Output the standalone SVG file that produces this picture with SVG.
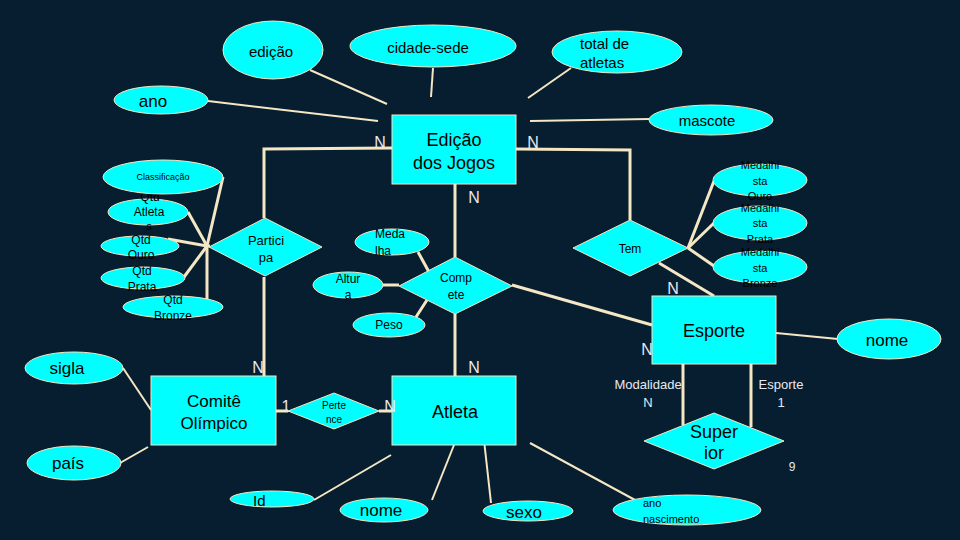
<svg xmlns="http://www.w3.org/2000/svg" width="960" height="540" viewBox="0 0 960 540">
<style>
.bg{fill:#061e2f}
.n{fill:#00ffff;stroke:#f5e6c4;stroke-width:1}
.t{font-family:"Liberation Sans",Arial,sans-serif;fill:#000;text-anchor:middle;dominant-baseline:central}
.s{text-anchor:start}
.c{font-family:"Liberation Sans",Arial,sans-serif;fill:#e8e8ee;text-anchor:middle;dominant-baseline:central}
.l{stroke:#f5e6c4;fill:none;stroke-width:3}
.a{stroke:#f5e6c4;fill:none;stroke-width:2}
</style>
<rect class="bg" x="0" y="0" width="960" height="540"/>
<g id="connectors">
<polyline class="l" points="392,148 264,149 264,218"/>
<line class="l" x1="264" y1="277" x2="264" y2="376"/>
<polyline class="l" points="516,149 630,150 630,220"/>
<line class="l" x1="659" y1="263" x2="714" y2="296"/>
<line class="l" x1="455" y1="184" x2="455" y2="257"/>
<line class="l" x1="455" y1="314" x2="455" y2="376"/>
<line class="l" x1="512" y1="285" x2="652" y2="325"/>
<line class="l" x1="276" y1="411" x2="288" y2="411"/>
<line class="l" x1="379" y1="411" x2="392" y2="411"/>
<line class="l" x1="683" y1="364" x2="683" y2="425"/>
<line class="l" x1="751" y1="364" x2="751" y2="427"/>
<line class="a" x1="310" y1="70" x2="387" y2="104"/>
<line class="a" x1="208" y1="101" x2="378" y2="121"/>
<line class="a" x1="433" y1="68" x2="431" y2="97"/>
<line class="a" x1="571" y1="68" x2="528" y2="98"/>
<line class="a" x1="530" y1="121" x2="649" y2="119"/>
<line class="l" x1="223" y1="177" x2="207" y2="246"/>
<line class="l" x1="188" y1="212" x2="207" y2="246"/>
<line class="l" x1="168" y1="239" x2="207" y2="246"/>
<line class="l" x1="184" y1="277" x2="207" y2="246"/>
<line class="l" x1="207" y1="300" x2="207" y2="246"/>
<line class="l" x1="207" y1="246" x2="210" y2="246"/>
<line class="l" x1="714" y1="181" x2="688" y2="248"/>
<line class="l" x1="714" y1="223" x2="688" y2="248"/>
<line class="l" x1="714" y1="266" x2="688" y2="248"/>
<line class="l" x1="418" y1="252" x2="429" y2="272"/>
<line class="l" x1="383" y1="285" x2="399" y2="285"/>
<line class="l" x1="416" y1="317" x2="427" y2="300"/>
<line class="a" x1="776" y1="333" x2="838" y2="339"/>
<line class="a" x1="123" y1="368" x2="151" y2="410"/>
<line class="a" x1="120" y1="463" x2="148" y2="447"/>
<line class="a" x1="314" y1="500" x2="391" y2="455"/>
<line class="a" x1="432" y1="500" x2="454" y2="445"/>
<line class="a" x1="491" y1="503" x2="484" y2="440"/>
<line class="a" x1="530" y1="443" x2="635" y2="500"/>
</g>
<g id="edicao-dos-jogos"><rect class="n" x="392" y="115" width="124" height="69"/><text class="t" x="454" y="140" font-size="18">Edição</text><text class="t" x="454" y="163" font-size="18">dos Jogos</text></g>
<g id="attr-edicao"><ellipse class="n" cx="273" cy="50" rx="50" ry="29"/><text class="t" x="271" y="51" font-size="15">edição</text></g>
<g id="attr-cidade-sede"><ellipse class="n" cx="433" cy="46" rx="83" ry="21"/><text class="t" x="428" y="47" font-size="15">cidade-sede</text></g>
<g id="attr-total-atletas"><ellipse class="n" cx="617" cy="52" rx="65" ry="21"/><text class="t s" x="580" y="43" font-size="15">total de</text><text class="t s" x="580" y="62" font-size="15">atletas</text></g>
<g id="attr-ano"><ellipse class="n" cx="161" cy="100" rx="47" ry="14"/><text class="t" x="153" y="101" font-size="17">ano</text></g>
<g id="attr-mascote"><ellipse class="n" cx="711" cy="120" rx="62" ry="15"/><text class="t" x="707" y="120" font-size="15">mascote</text></g>
<g id="participa"><polygon class="n" points="209,247 265,218 322,247 265,276"/><text class="t" x="266" y="240" font-size="13">Partici</text><text class="t" x="266" y="257" font-size="13">pa</text></g>
<g id="attr-qtd-atletas"><ellipse class="n" cx="148" cy="212" rx="40" ry="13"/><text class="t" x="150" y="197" font-size="12">Qtd</text><text class="t" x="149" y="212" font-size="12">Atleta</text><text class="t" x="149" y="226" font-size="11">s</text></g>
<g id="attr-classificacao"><ellipse class="n" cx="163" cy="177" rx="60" ry="17"/><text class="t" x="163" y="177" font-size="9">Classificação</text></g>
<g id="attr-qtd-ouro"><ellipse class="n" cx="140" cy="246" rx="39" ry="10"/><text class="t" x="141" y="240" font-size="12">Qtd</text><text class="t" x="141" y="255" font-size="12">Ouro</text></g>
<g id="attr-qtd-prata"><ellipse class="n" cx="143" cy="278" rx="42" ry="11"/><text class="t" x="142" y="271" font-size="12">Qtd</text><text class="t" x="142" y="287" font-size="12">Prata</text></g>
<g id="attr-qtd-bronze"><ellipse class="n" cx="173" cy="307" rx="50" ry="11"/><text class="t" x="173" y="300" font-size="12">Qtd</text><text class="t" x="173" y="316" font-size="12">Bronze</text></g>
<g id="compete"><polygon class="n" points="399,286 455,257 512,286 455,314"/><text class="t" x="456" y="278" font-size="12">Comp</text><text class="t" x="456" y="295" font-size="12">ete</text></g>
<g id="attr-medalha"><ellipse class="n" cx="392" cy="242" rx="37" ry="13"/><text class="t s" x="375" y="234" font-size="12">Meda</text><text class="t s" x="375" y="251" font-size="12">lha</text></g>
<g id="attr-altura"><ellipse class="n" cx="348" cy="285" rx="35" ry="13"/><text class="t" x="348" y="279" font-size="12">Altur</text><text class="t" x="348" y="295" font-size="12">a</text></g>
<g id="attr-peso"><ellipse class="n" cx="389" cy="325" rx="36" ry="12"/><text class="t" x="389" y="325" font-size="12">Peso</text></g>
<g id="tem"><polygon class="n" points="573,248 630,220 688,248 630,276"/><text class="t" x="630" y="249" font-size="12">Tem</text></g>
<g id="attr-medalhista-ouro"><ellipse class="n" cx="760" cy="180" rx="47" ry="16"/><text class="t" x="760" y="165" font-size="11">Medalhi</text><text class="t" x="760" y="181" font-size="11">sta</text><text class="t" x="760" y="196" font-size="11">Ouro</text></g>
<g id="attr-medalhista-prata"><ellipse class="n" cx="760" cy="223" rx="47" ry="17"/><text class="t" x="760" y="208" font-size="11">Medalhi</text><text class="t" x="760" y="223" font-size="11">sta</text><text class="t" x="760" y="239" font-size="11">Prata</text></g>
<g id="attr-medalhista-bronze"><ellipse class="n" cx="760" cy="267" rx="47" ry="16"/><text class="t" x="760" y="252" font-size="11">Medalhi</text><text class="t" x="760" y="268" font-size="11">sta</text><text class="t" x="760" y="283" font-size="11">Bronze</text></g>
<g id="esporte"><rect class="n" x="652" y="296" width="124" height="68"/><text class="t" x="714" y="331" font-size="18">Esporte</text></g>
<g id="attr-nome-esporte"><ellipse class="n" cx="889" cy="339" rx="52" ry="20"/><text class="t" x="887" y="340" font-size="17">nome</text></g>
<g id="superior"><polygon class="n" points="644,441 714,413 784,441 714,469"/><text class="t" x="714" y="432" font-size="18">Super</text><text class="t" x="714" y="453" font-size="18">ior</text></g>
<g id="comite-olimpico"><rect class="n" x="151" y="376" width="125" height="69"/><text class="t" x="214" y="401" font-size="17">Comitê</text><text class="t" x="214" y="423" font-size="17">Olímpico</text></g>
<g id="pertence"><polygon class="n" points="288,411 334,393 379,411 334,429"/><text class="t" x="334" y="405" font-size="10">Perte</text><text class="t" x="334" y="419" font-size="10">nce</text></g>
<g id="atleta"><rect class="n" x="392" y="376" width="124" height="69"/><text class="t" x="455" y="412" font-size="18">Atleta</text></g>
<g id="attr-sigla"><ellipse class="n" cx="74" cy="368" rx="49" ry="16"/><text class="t" x="67" y="368" font-size="17">sigla</text></g>
<g id="attr-pais"><ellipse class="n" cx="74" cy="463" rx="47" ry="17"/><text class="t" x="68" y="463" font-size="17">país</text></g>
<g id="attr-id"><ellipse class="n" cx="272" cy="499" rx="42" ry="8"/><text class="t s" x="253" y="500" font-size="15">Id</text></g>
<g id="attr-nome-atleta"><ellipse class="n" cx="384" cy="510" rx="44" ry="12"/><text class="t" x="381" y="510" font-size="17">nome</text></g>
<g id="attr-sexo"><ellipse class="n" cx="528" cy="511" rx="45" ry="10"/><text class="t" x="524" y="512" font-size="17">sexo</text></g>
<g id="attr-ano-nascimento"><ellipse class="n" cx="687" cy="510" rx="74" ry="15"/><text class="t s" x="643" y="503" font-size="11">ano</text><text class="t s" x="643" y="519" font-size="11">nascimento</text></g>
<g id="labels">
<text class="c" x="380" y="142" font-size="16">N</text>
<text class="c" x="533" y="142" font-size="16">N</text>
<text class="c" x="474" y="197" font-size="16">N</text>
<text class="c" x="673" y="288" font-size="16">N</text>
<text class="c" x="647" y="349" font-size="16">N</text>
<text class="c" x="258" y="367" font-size="16">N</text>
<text class="c" x="474" y="367" font-size="16">N</text>
<text class="c" x="286" y="406" font-size="16">1</text>
<text class="c" x="390" y="406" font-size="16">N</text>
<text class="c" x="648" y="384" font-size="13">Modalidade</text>
<text class="c" x="648" y="402" font-size="13">N</text>
<text class="c" x="781" y="384" font-size="13">Esporte</text>
<text class="c" x="781" y="402" font-size="13">1</text>
<text class="c" x="792" y="467" font-size="12">9</text>
</g>
</svg>
